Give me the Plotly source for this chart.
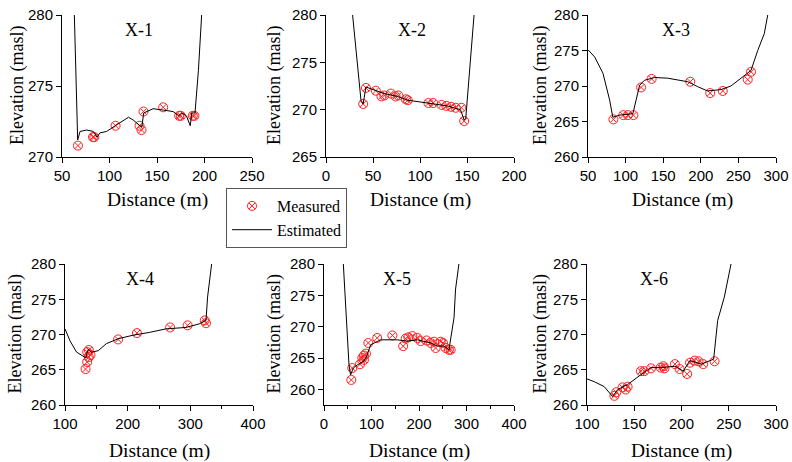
import plotly.graph_objects as go

# ---------------- data ----------------
names = ["X-1", "X-2", "X-3", "X-4", "X-5", "X-6"]

# Estimated profiles (distance, elevation)
est1_x = [63, 66.5, 69, 76, 83, 86.8, 90, 97, 106, 120, 125, 134, 136, 146, 157, 167, 172.6, 176, 181, 185, 186.6, 190, 193.6, 197]
est1_y = [280, 271.2, 271.8, 271.9, 271.8, 271.4, 271.7, 271.8, 272.2, 272.8, 272.6, 272.1, 273.1, 273.4, 273.3, 273.2, 272.9, 273.1, 272.9, 272.2, 273.1, 273.1, 276.1, 280]
mea1_x = [66.8, 82.6, 84, 106.4, 131.6, 133.7, 135.8, 156.5, 173.3, 175, 187.7, 189.4]
mea1_y = [270.8, 271.4, 271.4, 272.2, 272.2, 271.9, 273.2, 273.5, 272.9, 272.9, 272.9, 272.9]

est2_x = [28.3, 37.2, 39.5, 42.5, 47.8, 62, 76, 86.7, 101, 115, 129, 143, 147, 148.7, 157.5]
est2_y = [280, 271.0, 270.6, 272.4, 272.2, 271.7, 271.4, 271.0, 270.8, 270.6, 270.4, 270.0, 268.9, 269.1, 280]
mea2_x = [39.6, 42.5, 53, 59, 62, 69, 74, 77, 85, 87, 109, 114, 123, 128, 133, 138, 144, 147]
mea2_y = [270.6, 272.3, 272.0, 271.4, 271.5, 271.7, 271.4, 271.5, 271.1, 271.0, 270.7, 270.7, 270.5, 270.4, 270.3, 270.2, 270.2, 268.8]

est3_x = [50, 58.8, 69.9, 78.8, 83, 92, 109.7, 114, 118.6, 125, 138.5, 156, 182.7, 196, 209, 227, 240, 253.5, 266.8, 275.7, 284.5, 289]
est3_y = [275.1, 274.1, 271.8, 268.0, 265.6, 265.9, 266.1, 268.0, 270.1, 270.8, 271.2, 271.1, 270.6, 269.9, 269.3, 269.5, 270.0, 271.1, 272.2, 275.0, 277.4, 280]
mea3_x = [83.8, 97, 103, 110.4, 120.6, 134.6, 186, 212.5, 229.2, 262.4, 266.8]
mea3_y = [265.3, 265.9, 265.9, 265.9, 269.8, 271.0, 270.6, 269.0, 269.3, 270.9, 272.0]

est4_x = [100, 108, 118.5, 129, 133, 137, 142, 153, 166, 185, 208.5, 235, 261, 293, 314, 325, 327.5, 334]
est4_y = [270.8, 269.1, 267.5, 267.0, 266.7, 267.9, 267.5, 267.7, 268.7, 269.4, 269.9, 270.3, 270.8, 271.0, 271.5, 272.0, 275.3, 280]
mea4_x = [132.8, 135.4, 138, 140.7, 138, 135.4, 184.7, 214.8, 267.7, 295.7, 323, 325]
mea4_y = [265.1, 266.1, 266.8, 267.1, 267.8, 267.5, 269.3, 270.2, 271.0, 271.3, 272.0, 271.6]

est5_x = [40.7, 52.6, 56, 61.8, 70, 84, 91, 98, 119, 154, 175, 196.5, 224.6, 238.6, 252.6, 263, 273.7, 277, 284]
est5_y = [280, 263.9, 262.3, 263.4, 263.9, 264.5, 265.5, 267.1, 267.9, 267.9, 267.7, 267.9, 267.4, 266.9, 266.9, 266.3, 271.4, 276.0, 280]
mea5_x = [57.5, 59.6, 75.8, 80.7, 84, 88.4, 84.2, 93.3, 112, 144, 166.7, 172, 177.5, 186, 196.5, 203.5, 216, 224.6, 231.6, 235, 245.6, 250.5, 256, 263, 266.7]
mea5_y = [261.5, 263.4, 264.0, 265.0, 265.4, 265.7, 264.7, 267.4, 268.2, 268.6, 266.9, 268.1, 268.3, 268.5, 268.2, 267.7, 267.8, 267.4, 267.6, 266.6, 267.6, 267.4, 266.6, 266.3, 266.3]

est6_x = [100, 107.8, 118.3, 127, 132.5, 143, 157, 167.7, 178, 193, 201.8, 208.9, 221, 234, 238.3, 245.3, 252.4]
est6_y = [263.7, 263.3, 262.6, 261.2, 262.2, 262.9, 264.3, 265.3, 265.3, 265.5, 264.8, 266.3, 265.8, 266.5, 272.0, 275.3, 280]
mea6_x = [129, 131, 137.6, 141, 143, 157, 160.6, 167.7, 178, 181, 182, 193, 198, 206, 209, 214, 218, 223, 235]
mea6_y = [261.3, 261.8, 262.5, 262.2, 262.6, 264.8, 264.8, 265.2, 265.3, 265.5, 265.2, 265.8, 265.1, 264.4, 266.0, 266.3, 266.2, 265.8, 266.2]

est_x = [est1_x, est2_x, est3_x, est4_x, est5_x, est6_x]
est_y = [est1_y, est2_y, est3_y, est4_y, est5_y, est6_y]
mea_x = [mea1_x, mea2_x, mea3_x, mea4_x, mea5_x, mea6_x]
mea_y = [mea1_y, mea2_y, mea3_y, mea4_y, mea5_y, mea6_y]

x_ranges = [[50, 250], [0, 200], [50, 300], [100, 400], [0, 400], [100, 300]]
x_dticks = [50, 50, 50, 100, 100, 50]
y_ranges = [[270, 280], [265, 280], [260, 280], [260, 280], [257.5, 280], [260, 280]]
y_dticks = [5, 5, 5, 5, 5, 5]
y_tick0 = [270, 265, 260, 260, 260, 260]

# ---------------- layout (pixel boxes in window coords) ----------------
W, H = 792, 462
boxes = [(62, 252, 15, 157), (326, 514, 15, 157), (588, 776, 15, 157),
         (65, 253, 264, 405), (324, 514, 264, 405), (587, 776, 264, 405)]
label_dx = [77, 86, 88, 75, 73, 67]
ytitle_x = [17, 274, 540, 15, 274, 540]


def px(v):
    return v / W


def py(v):
    return 1 - v / H


serif = "Liberation Serif, Times New Roman, serif"
sans = "Liberation Sans, Arial, sans-serif"

fig = go.Figure()
layout = dict(width=W, height=H, margin=dict(l=0, r=0, t=0, b=0, autoexpand=False),
              paper_bgcolor="white", plot_bgcolor="white", annotations=[])

for i in range(6):
    n = "" if i == 0 else str(i + 1)
    x0, x1, y0, y1 = boxes[i]
    common = dict(showline=True, linecolor="black", linewidth=1, showgrid=False,
                  zeroline=False, ticks="outside", ticklen=5, tickwidth=1, automargin=False,
                  ticklabeloverflow="allow",
                  tickcolor="black", tickfont=dict(family=sans, size=15, color="black"),
                  minor=dict(ticks="outside", ticklen=3, tickcolor="black", nticks=2))
    layout["xaxis" + n] = dict(domain=[px(x0), px(x1)], range=x_ranges[i], dtick=x_dticks[i],
                               tick0=0, anchor="y" + n, **common)
    layout["yaxis" + n] = dict(domain=[py(y1), py(y0)], range=y_ranges[i], dtick=y_dticks[i],
                               tick0=y_tick0[i], anchor="x" + n, **common)

    fig.add_trace(go.Scatter(x=mea_x[i], y=mea_y[i], mode="markers", name="Measured",
                             marker=dict(symbol="circle-x-open", size=9, color="#ff2020",
                                         line=dict(width=1)),
                             xaxis="x" + n, yaxis="y" + n, showlegend=(i == 0),
                             cliponaxis=True))
    fig.add_trace(go.Scatter(x=est_x[i], y=est_y[i], mode="lines", name="Estimated",
                             line=dict(color="black", width=1),
                             xaxis="x" + n, yaxis="y" + n, showlegend=(i == 0)))

    # panel label
    layout["annotations"].append(dict(text=names[i], x=px(x0 + label_dx[i]),
                                      y=py(y0 + 15), xref="paper", yref="paper",
                                      showarrow=False, xanchor="center", yanchor="middle",
                                      font=dict(family=serif, size=18, color="black")))
    # x title
    xt_y = 200 if i < 3 else 451
    layout["annotations"].append(dict(text="Distance (m)", x=px((x0 + x1) / 2),
                                      y=py(xt_y), xref="paper", yref="paper",
                                      showarrow=False, xanchor="center", yanchor="middle",
                                      font=dict(family=serif, size=19.5, color="black")))
    # y title
    layout["annotations"].append(dict(text="Elevation (masl)", x=px(ytitle_x[i]),
                                      y=py((y0 + y1) / 2), xref="paper", yref="paper",
                                      showarrow=False, xanchor="center", yanchor="middle",
                                      textangle=-90,
                                      font=dict(family=serif, size=18, color="black")))

fig.update_layout(**layout)
fig.update_layout(legend=dict(x=px(226), y=py(188), xanchor="left", yanchor="top",
                              bordercolor="#555", borderwidth=1, bgcolor="white",
                              font=dict(family=serif, size=16, color="black"),
                              tracegroupgap=0, itemwidth=40))

fig.write_html("out.html", config={"displayModeBar": False},
               post_script="document.body.style.margin='0px';document.body.style.padding='0px';")
